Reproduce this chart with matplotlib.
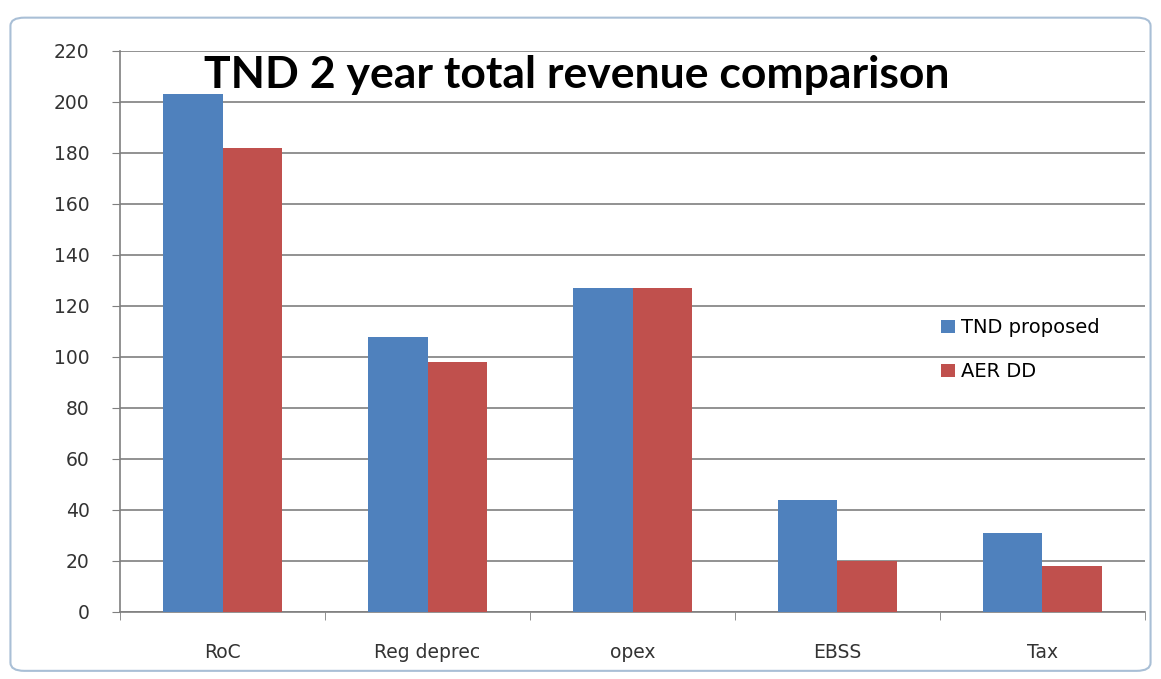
import matplotlib
matplotlib.use("Agg")
import matplotlib.pyplot as plt
import numpy as np
from matplotlib.patches import FancyBboxPatch

categories = ["RoC", "Reg deprec", "opex", "EBSS", "Tax"]
tnd_proposed = [203, 108, 127, 44, 31]
aer_dd = [182, 98, 127, 20, 18]
yticks = list(range(0, 221, 20))

blue = "#4F81BD"
red = "#C0504D"

plt.rcParams["font.family"] = ["DejaVu Sans"]

fig = plt.figure(figsize=(11.61, 6.79), dpi=100)

# outer chart frame (excel style)
frame = FancyBboxPatch((0.009, 0.012), 0.982, 0.962, boxstyle="round,pad=0,rounding_size=0.012",
                       transform=fig.transFigure, facecolor="none", edgecolor="#a9bfd6", lw=1.5,
                       zorder=-1)
fig.patches.append(frame)

ax = fig.add_axes([0.1034, 0.0987, 0.8828, 0.8262])
ax.set_facecolor("none")

x = np.arange(len(categories))
w = 0.29
ax.bar(x - w / 2, tnd_proposed, w, color=blue, label="TND proposed", zorder=3)
ax.bar(x + w / 2, aer_dd, w, color=red, label="AER DD", zorder=3)

ax.set_xlim(-0.5, len(categories) - 0.5)
ax.set_ylim(0, 220)
ax.set_yticks(yticks)
ax.yaxis.grid(True, color="#7f7f7f", lw=1.2, zorder=0)
ax.set_axisbelow(True)

ax.set_xticks(x)
ax.set_xticklabels(categories)
ax.set_xticks(np.arange(-0.5, len(categories)), minor=True)
ax.tick_params(axis="x", which="major", length=0, pad=22, labelsize=13.5, labelcolor="#333333")
ax.tick_params(axis="x", which="minor", length=6, color="#7f7f7f", direction="out")
ax.tick_params(axis="y", length=6, color="#7f7f7f", labelsize=13.5, labelcolor="#333333", pad=16)

for s in ["top", "right"]:
    ax.spines[s].set_visible(False)
for s in ["left", "bottom"]:
    ax.spines[s].set_color("#7f7f7f")
    ax.spines[s].set_linewidth(1.2)

ax.text(0.446, 0.958, "TND 2 year total revenue comparison", transform=ax.transAxes,
        ha="center", va="center", fontsize=32, fontweight="bold", color="black",
        family=["Lato", "DejaVu Sans"])

ax.legend(loc="upper left", bbox_to_anchor=(0.784, 0.555), frameon=False, fontsize=14,
          handlelength=0.7, handleheight=0.7, handletextpad=0.3, labelspacing=1.3)

fig.savefig("out.png", dpi=100)
